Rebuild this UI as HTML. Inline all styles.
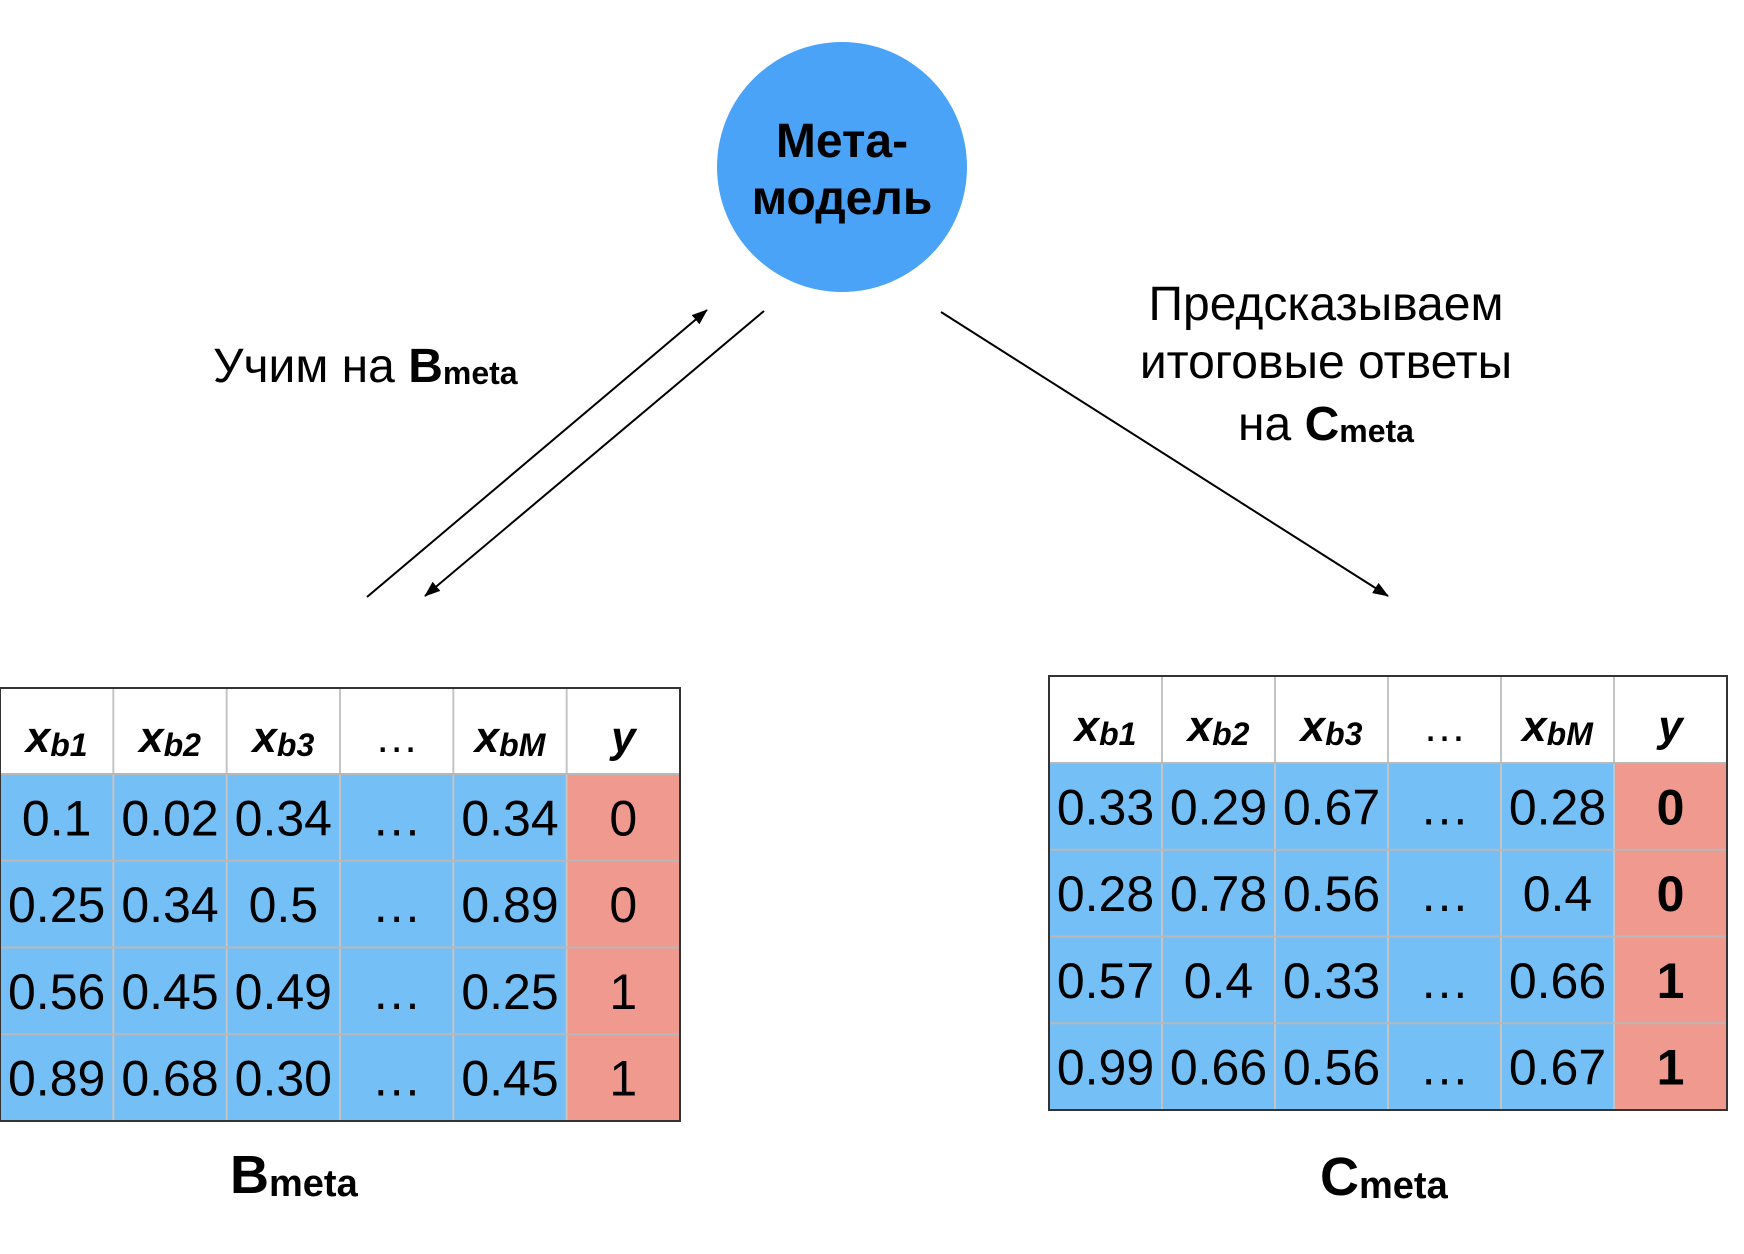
<!DOCTYPE html>
<html><head><meta charset="utf-8">
<style>
html,body{margin:0;padding:0;background:#fff;}
svg{display:block;font-family:"Liberation Sans","DejaVu Sans",sans-serif;}
</style></head>
<body>
<svg id="fig" width="1744" height="1254" viewBox="0 0 1744 1254" xmlns="http://www.w3.org/2000/svg">
<defs>
<marker id="ah" markerWidth="16" markerHeight="12" refX="15" refY="6" orient="auto" markerUnits="userSpaceOnUse">
<path d="M0,0 L16,6 L0,12 z" fill="#000"/>
</marker>
</defs>
<circle cx="842" cy="167" r="125" fill="#4aa3f7"/>
<text x="842" y="157" text-anchor="middle" font-size="48" font-weight="bold">Мета-</text>
<text x="842" y="214" text-anchor="middle" font-size="48" font-weight="bold">модель</text>

<line x1="367" y1="597" x2="707" y2="310" stroke="#000" stroke-width="2" marker-end="url(#ah)"/>
<line x1="764" y1="311" x2="425" y2="596" stroke="#000" stroke-width="2" marker-end="url(#ah)"/>
<line x1="941" y1="312" x2="1388" y2="596" stroke="#000" stroke-width="2" marker-end="url(#ah)"/>

<text x="213" y="382" font-size="48">Учим на <tspan font-weight="bold">B</tspan><tspan font-weight="bold" font-size="32" dy="2">meta</tspan></text>
<text x="1326" y="320" text-anchor="middle" font-size="48">Предсказываем</text>
<text x="1326" y="378" text-anchor="middle" font-size="48">итоговые ответы</text>
<text x="1326" y="440" text-anchor="middle" font-size="48">на <tspan font-weight="bold">C</tspan><tspan font-weight="bold" font-size="32" dy="2">meta</tspan></text>

<g id="tblB"></g>
<g id="tblC"></g>

<text x="230" y="1193" font-size="54" font-weight="bold">B<tspan font-size="38" dy="3">meta</tspan></text>
<text x="1320" y="1195" font-size="54" font-weight="bold">C<tspan font-size="38" dy="3">meta</tspan></text>
</svg>
<script>
const headerSubs = ["b1","b2","b3","…","bM","y"];
const bRows = [["0.1","0.02","0.34","…","0.34","0"],["0.25","0.34","0.5","…","0.89","0"],["0.56","0.45","0.49","…","0.25","1"],["0.89","0.68","0.30","…","0.45","1"]];
const cRows = [["0.33","0.29","0.67","…","0.28","0"],["0.28","0.78","0.56","…","0.4","0"],["0.57","0.4","0.33","…","0.66","1"],["0.99","0.66","0.56","…","0.67","1"]];
const NS="http://www.w3.org/2000/svg";
function mk(tag,attrs,parent){const e=document.createElementNS(NS,tag);for(const k in attrs)e.setAttribute(k,attrs[k]);parent.appendChild(e);return e;}
function table(g,rows,x0,y0,x1,y1,hdrBottom,boldY){
  const ncol=6, cw=(x1-x0)/ncol, rh=(y1-hdrBottom)/rows.length;
  for(let c=0;c<ncol;c++){
    const cx=x0+c*cw;
    const h=mk('text',{x:cx+cw/2,y:hdrBottom-22,'text-anchor':'middle','font-size':44,'font-weight':'bold','font-style':'italic'},g);
    
    
    const s=headerSubs[c];
    if(s==='…'){h.textContent='…';h.setAttribute('font-style','normal');h.setAttribute('font-weight','normal');}
    else if(s==='y'){h.textContent='y';}
    else{h.textContent='x';const t=mk('tspan',{'font-size':32,dy:4},h);t.textContent=s;}
  }
  rows.forEach((row,r)=>{
    row.forEach((v,c)=>{
      const cx=x0+c*cw, cy=hdrBottom+r*rh;
      const rect=mk('rect',{x:cx,y:cy,width:cw,height:rh,fill:c===5?'#f0998e':'#74bff6'},g);
      
      
      const t=mk('text',{x:cx+cw/2,y:cy+rh/2+18,'text-anchor':'middle','font-size':50,'font-weight':(c===5&&boldY)?'bold':'normal'},g);
      
      
      t.textContent=v;
    });
  });
  for(let c=1;c<ncol;c++) mk('line',{x1:x0+c*cw,y1:y0,x2:x0+c*cw,y2:y1,stroke:'#c4c4c4','stroke-width':2},g);
  for(let r=0;r<rows.length;r++) mk('line',{x1:x0,y1:hdrBottom+r*rh,x2:x1,y2:hdrBottom+r*rh,stroke:'#b8b8b8','stroke-width':2},g);
  mk('rect',{x:x0,y:y0,width:x1-x0,height:y1-y0,fill:'none',stroke:'#333','stroke-width':2},g);
}
table(document.getElementById('tblB'),bRows,0,688,680,1121,774,false);
table(document.getElementById('tblC'),cRows,1049,676,1727,1110,763,true);
</script>
</body></html>
